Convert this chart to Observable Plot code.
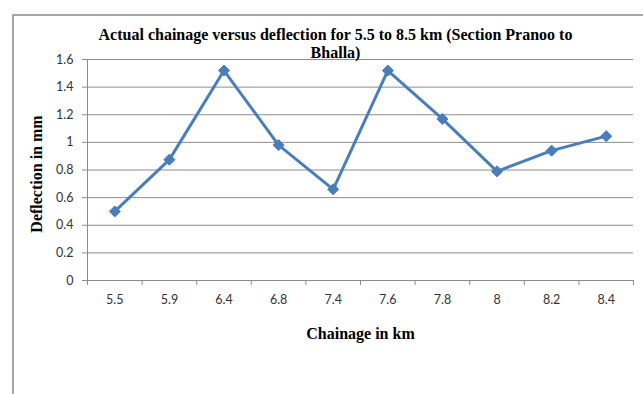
<!DOCTYPE html>
<html>
<head>
<meta charset="utf-8">
<script src="https://cdn.jsdelivr.net/npm/d3@7"></script>
<script src="https://cdn.jsdelivr.net/npm/@observablehq/plot@0.6"></script>
<style>
  html, body { margin: 0; padding: 0; background: #fff; }
  #wrap { position: relative; width: 643px; height: 394px; overflow: hidden; }
  #box { position: absolute; left: 12px; top: 14px; width: 700px; height: 500px;
         border-left: 2px solid #a6a6a6; border-top: 2px solid #a6a6a6; pointer-events: none; }
</style>
</head>
<body>
<div id="wrap"><div id="box"></div></div>
<script>
const chainage = ["5.5", "5.9", "6.4", "6.8", "7.4", "7.6", "7.8", "8", "8.2", "8.4"];
const deflection = [0.50, 0.875, 1.52, 0.98, 0.66, 1.52, 1.17, 0.79, 0.94, 1.045];
const yTicks = [0, 0.2, 0.4, 0.6, 0.8, 1, 1.2, 1.4, 1.6];
const title = "Actual chainage versus deflection for 5.5 to 8.5 km (Section Pranoo to\nBhalla)";
const xTitle = "Chainage in km";
const yTitle = "Deflection in mm";

const data = chainage.map((c, i) => ({i, c, v: deflection[i]}));
const xDomain = [-0.5, chainage.length - 0.5];
const centers = d3.range(chainage.length);
const bounds = d3.range(chainage.length + 1).map(k => k - 0.5);

const blue = "#4a7ebb";
const gray = "#8c8c8c";
const serif = "'Liberation Serif', 'Times New Roman', serif";
const sans = "Lato, 'Liberation Sans', sans-serif";

const chart = Plot.plot({
  width: 643,
  height: 394,
  marginLeft: 87,
  marginRight: 10,
  marginTop: 59,
  marginBottom: 114,
  style: {background: "transparent", overflow: "visible"},
  x: {domain: xDomain, type: "linear"},
  y: {domain: [0, 1.6]},
  marks: [
    Plot.gridY(yTicks, {stroke: gray, strokeOpacity: 1, strokeWidth: 1}),
    Plot.ruleX([xDomain[0]], {stroke: gray, strokeWidth: 1}),
    Plot.axisY({ticks: yTicks, tickSize: 5, tickPadding: 9, stroke: gray, label: null,
      tickFormat: d => String(d), fontSize: 12.5, fontFamily: sans, fill: "#333"}),
    Plot.axisX({ticks: bounds, tickSize: 5, tickFormat: () => "", stroke: gray, label: null}),
    Plot.axisX({ticks: centers, tickSize: 0, tickPadding: 15, tickFormat: i => chainage[i],
      label: null, fontSize: 12.5, fontFamily: sans, fill: "#333"}),
    Plot.line(data, {x: "i", y: "v", stroke: blue, strokeWidth: 3}),
    Plot.dot(data, {x: "i", y: "v", symbol: "diamond2", r: 5, fill: blue, stroke: blue, strokeWidth: 1}),
    Plot.text([title], {frameAnchor: "top", dx: -25, dy: -32, lineAnchor: "top", lineHeight: 1.125,
      fontFamily: serif, fontWeight: "bold", fontSize: 16, fill: "#000"}),
    Plot.text([yTitle], {frameAnchor: "left", dx: -51, dy: 4, rotate: -90, textAnchor: "middle",
      lineAnchor: "middle", fontFamily: serif, fontWeight: "bold", fontSize: 16, fill: "#000"}),
    Plot.text([xTitle], {frameAnchor: "bottom", dy: 53, textAnchor: "middle", lineAnchor: "middle",
      fontFamily: serif, fontWeight: "bold", fontSize: 16, fill: "#000"})
  ]
});
chart.style.position = "absolute";
chart.style.left = "0px";
chart.style.top = "0px";
document.getElementById("wrap").prepend(chart);
</script>
</body>
</html>
